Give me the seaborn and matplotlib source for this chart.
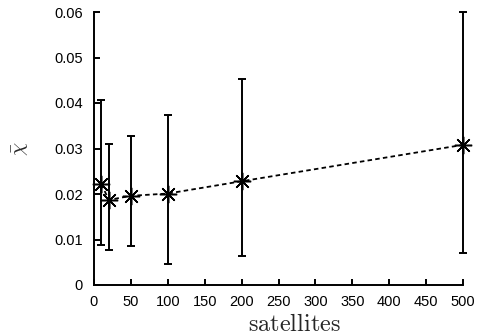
import numpy as np
import pandas as pd
import seaborn as sns
import matplotlib.pyplot as plt

# valeurs
satellites = [10, 20, 50, 100, 200, 500]
chi_moyen = [0.0222, 0.0187, 0.0196, 0.0201, 0.0228, 0.0308]
chi_bas = [0.0088, 0.0077, 0.0085, 0.0047, 0.0063, 0.0071]
chi_haut = [0.0407, 0.0310, 0.0327, 0.0374, 0.0453, 0.0600]

x_ticks = [0, 50, 100, 150, 200, 250, 300, 350, 400, 450, 500]
y_ticks = [0, 0.01, 0.02, 0.03, 0.04, 0.05, 0.06]
y_labels = ["0", "0.01", "0.02", "0.03", "0.04", "0.05", "0.06"]

df = pd.DataFrame({"satellites": satellites, "chi": chi_moyen})

sns.set_style("ticks")
plt.rcParams["font.family"] = ["Liberation Sans", "DejaVu Sans"]
plt.rcParams["mathtext.fontset"] = "cm"

fig = plt.figure(figsize=(4.78, 3.36), dpi=100)
ax = fig.add_axes([94 / 478, 1 - 285 / 336, 369 / 478, 273 / 336])

# barres d'erreur asymétriques
err = [np.array(chi_moyen) - np.array(chi_bas), np.array(chi_haut) - np.array(chi_moyen)]
ax.errorbar(satellites, chi_moyen, yerr=err, fmt="none", ecolor="black",
            elinewidth=1.4, capsize=3, capthick=1.4, clip_on=False, zorder=2)

sns.lineplot(data=df, x="satellites", y="chi", ax=ax, color="black",
             linewidth=1.3, linestyle=(0, (2.5, 1.8)), marker=(8, 2, 0),
             markersize=12.5, markeredgewidth=1.1, markeredgecolor="black",
             clip_on=False, zorder=3)

ax.set_xlim(0, 500)
ax.set_ylim(0, 0.06)
ax.set_xticks(x_ticks)
ax.set_yticks(y_ticks)
ax.set_yticklabels(y_labels)
ax.tick_params(direction="in", length=4.5, width=1.4, labelsize=10.5, colors="black")
ax.tick_params(axis="x", pad=7)
ax.tick_params(axis="y", pad=8)
sns.despine(ax=ax)
for s in ["left", "bottom"]:
    ax.spines[s].set_linewidth(1.4)
    ax.spines[s].set_color("black")

ax.set_xlabel(r"$\mathrm{satellites}$", fontsize=17.5)
ax.set_ylabel(r"$\bar{\chi}$", fontsize=15)
ax.xaxis.set_label_coords(0.542, -0.105)
ax.yaxis.set_label_coords(-0.17, 0.5)

fig.savefig("out.png", dpi=100)
